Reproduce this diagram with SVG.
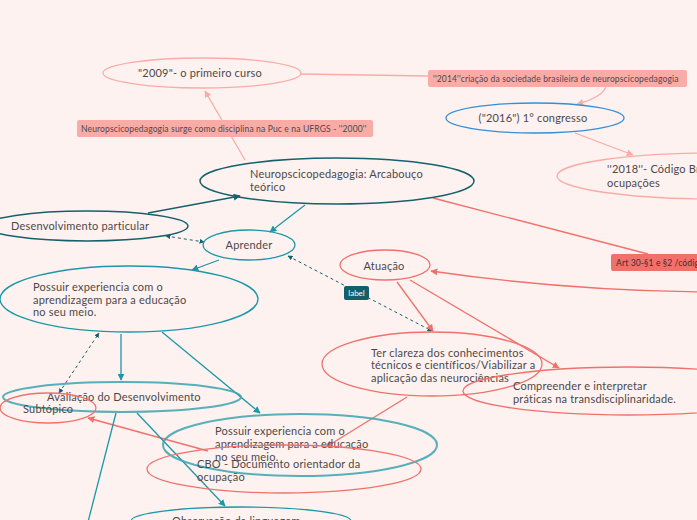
<svg xmlns="http://www.w3.org/2000/svg" width="697" height="520" viewBox="0 0 697 520">
<defs>
<style>
text{font-family:Lato,"Open Sans","Liberation Sans",sans-serif;fill:#4d4848}
.t{font-size:11px;letter-spacing:0.2px}
.s{font-size:8.5px;letter-spacing:0.15px}
.lp{stroke:#f9aca6;fill:none;stroke-width:1.3}
.rd{stroke:#f0716a;fill:none;stroke-width:1.3}
.tl{stroke:#1d97a6;fill:none;stroke-width:1.3}
.dt{stroke:#17606b;fill:none;stroke-width:1.5}
.bl{stroke:#338fd6;fill:none;stroke-width:1.3}
.ds{stroke:#17606b;fill:none;stroke-width:1;stroke-dasharray:3 3}
</style>
<marker id="mlp" viewBox="0 0 10 10" refX="9" refY="5" markerWidth="7" markerHeight="7" orient="auto-start-reverse" markerUnits="userSpaceOnUse"><path d="M0,0L10,5L0,10z" fill="#f9aca6"/></marker>
<marker id="mrd" viewBox="0 0 10 10" refX="9" refY="5" markerWidth="7" markerHeight="7" orient="auto-start-reverse" markerUnits="userSpaceOnUse"><path d="M0,0L10,5L0,10z" fill="#f0716a"/></marker>
<marker id="mtl" viewBox="0 0 10 10" refX="9" refY="5" markerWidth="7" markerHeight="7" orient="auto-start-reverse" markerUnits="userSpaceOnUse"><path d="M0,0L10,5L0,10z" fill="#1d97a6"/></marker>
<marker id="mdt" viewBox="0 0 10 10" refX="9" refY="5" markerWidth="7" markerHeight="7" orient="auto-start-reverse" markerUnits="userSpaceOnUse"><path d="M0,0L10,5L0,10z" fill="#17606b"/></marker>
<marker id="mds" viewBox="0 0 10 10" refX="9" refY="5" markerWidth="5" markerHeight="5" orient="auto-start-reverse" markerUnits="userSpaceOnUse"><path d="M0,0L10,5L0,10z" fill="#17606b"/></marker>
</defs>
<rect width="697" height="520" fill="#fdf2f0"/>

<g id="connectors">
<path class="lp" d="M245,160 L205,91" marker-end="url(#mlp)"/>
<path class="lp" d="M301,74 L428,76"/>
<path class="lp" d="M606,87 Q601,98 577,104" marker-end="url(#mlp)"/>
<path class="lp" d="M575,133 L633,155" marker-end="url(#mlp)"/>
<path class="rd" d="M433,198 L648,254"/>
<path class="rd" d="M700,292 Q560,290 431,271" marker-end="url(#mrd)"/>
<path class="dt" d="M148,213 L240,196" marker-end="url(#mdt)"/>
<path class="tl" d="M305,205 L270,232" marker-end="url(#mtl)"/>
<path class="tl" d="M219,260 L192,270" marker-end="url(#mtl)"/>
<path class="ds" d="M166,236 L204,242" marker-start="url(#mds)" marker-end="url(#mds)"/>
<path class="ds" d="M288,256 L432,331" marker-start="url(#mds)" marker-end="url(#mds)"/>
<path class="rd" d="M397,282 L433,331" marker-end="url(#mrd)"/>
<path class="rd" d="M410,280 L559,368" marker-end="url(#mrd)"/>
<path class="rd" d="M407,397 L326,447" marker-end="url(#mrd)"/>
<path class="tl" d="M121,334 L121,380" marker-end="url(#mtl)"/>
<path class="ds" d="M59,393 L99,333" marker-start="url(#mds)" marker-end="url(#mds)"/>
<path class="tl" d="M162,332 L260,413" marker-end="url(#mtl)"/>
<path class="rd" d="M208,451 L88,418" marker-end="url(#mrd)"/>
<path class="tl" d="M137,413 L225,506" marker-end="url(#mtl)"/>
<path class="tl" d="M116,413 L88,522"/>
</g>

<g id="lbl-2000">
<rect x="77" y="120" width="296" height="17" rx="2" fill="#f9aca6"/>
<text class="s" x="81" y="131.5">Neuropscicopedagogia surge como disciplina na Puc e na UFRGS - ''2000''</text>
</g>
<g id="lbl-label">
<rect x="344" y="286" width="25" height="14" rx="2" fill="#145f6a"/>
<text x="356.5" y="296" text-anchor="middle" style="fill:#fff;font-size:8px">label</text>
</g>

<g id="n2009">
<ellipse class="lp" cx="202" cy="73" rx="99" ry="15"/>
<text class="t" x="200" y="77" text-anchor="middle">"2009"- o primeiro curso</text>
</g>
<g id="n2014">
<rect x="428" y="70" width="259" height="17" rx="2" fill="#f9aca6"/>
<text class="s" x="433" y="81.5">''2014''criação da sociedade brasileira de neuropscicopedagogia</text>
</g>
<g id="n2016">
<ellipse class="bl" cx="535" cy="118" rx="89" ry="15"/>
<text class="t" x="533" y="122" text-anchor="middle">("2016") 1°  congresso</text>
</g>
<g id="n2018">
<ellipse class="lp" cx="715" cy="176" rx="158" ry="23"/>
<text class="t" x="607" y="173">''2018''- Código Brasileiro de</text>
<text class="t" x="607" y="187">ocupações</text>
</g>
<g id="nArt">
<rect x="611" y="254" width="100" height="17" rx="2" fill="#f0716a"/>
<text class="s" x="616" y="265.5" style="fill:#3a2f2f">Art 30-§1 e §2 /código brasileiro</text>
</g>
<g id="nNeuro">
<ellipse class="dt" cx="337" cy="181" rx="137" ry="23"/>
<text class="t" x="250" y="178">Neuropscicopedagogia: Arcabouço</text>
<text class="t" x="250" y="191">teórico</text>
</g>
<g id="nDesenv">
<ellipse class="dt" cx="87" cy="226" rx="101" ry="15"/>
<text class="t" x="11" y="230">Desenvolvimento particular</text>
</g>
<g id="nAprender">
<ellipse class="tl" cx="249" cy="245" rx="46" ry="15"/>
<text class="t" x="249" y="249" text-anchor="middle">Aprender</text>
</g>
<g id="nPossuir1">
<ellipse class="tl" cx="129" cy="299" rx="129" ry="33"/>
<text class="t" x="33" y="291">Possuir experiencia com o</text>
<text class="t" x="33" y="304">aprendizagem para a educação</text>
<text class="t" x="33" y="316">no seu meio.</text>
</g>
<g id="nAtuacao">
<ellipse class="rd" cx="385" cy="265" rx="45" ry="15"/>
<text class="t" x="384" y="270" text-anchor="middle">Atuação</text>
</g>
<g id="nTer">
<ellipse class="rd" cx="432" cy="364" rx="110" ry="32"/>
<text class="t" x="371" y="357">Ter clareza dos conhecimentos</text>
<text class="t" x="371" y="369">técnicos e científicos/Viabilizar a</text>
<text class="t" x="371" y="382">aplicação das neurociências</text>
</g>
<g id="nCompreender">
<ellipse class="rd" cx="628" cy="391" rx="165" ry="24"/>
<text class="t" x="513" y="390">Compreender e interpretar</text>
<text class="t" x="513" y="403">práticas na transdisciplinaridade.</text>
</g>
<g id="nAvaliacao">
<ellipse cx="122" cy="397" rx="119" ry="15" style="stroke:#3aa3af;stroke-width:2;fill:none;opacity:0.85"/>
<text class="t" x="47" y="401">Avaliação do Desenvolvimento</text>
</g>
<g id="nSubtopico">
<ellipse class="rd" cx="48" cy="408" rx="48" ry="15"/>
<text class="t" x="23" y="413">Subtópico</text>
</g>
<g id="nPossuir2">
<ellipse cx="300" cy="445" rx="137" ry="31" style="stroke:#3aa3af;stroke-width:2;fill:none;opacity:0.85"/>
<text class="t" x="215" y="435">Possuir experiencia com o</text>
<text class="t" x="215" y="448">aprendizagem para a educação</text>
<text class="t" x="215" y="461">no seu meio.</text>
</g>
<g id="nCBO">
<ellipse class="rd" cx="284" cy="469" rx="137" ry="24"/>
<text class="t" x="197" y="468">CBO - Documento orientador da</text>
<text class="t" x="197" y="481">ocupação</text>
</g>
<g id="nObs">
<ellipse class="tl" cx="241" cy="521" rx="110" ry="14"/>
<text class="t" x="172" y="525">Observação da linguagem</text>
</g>
</svg>
